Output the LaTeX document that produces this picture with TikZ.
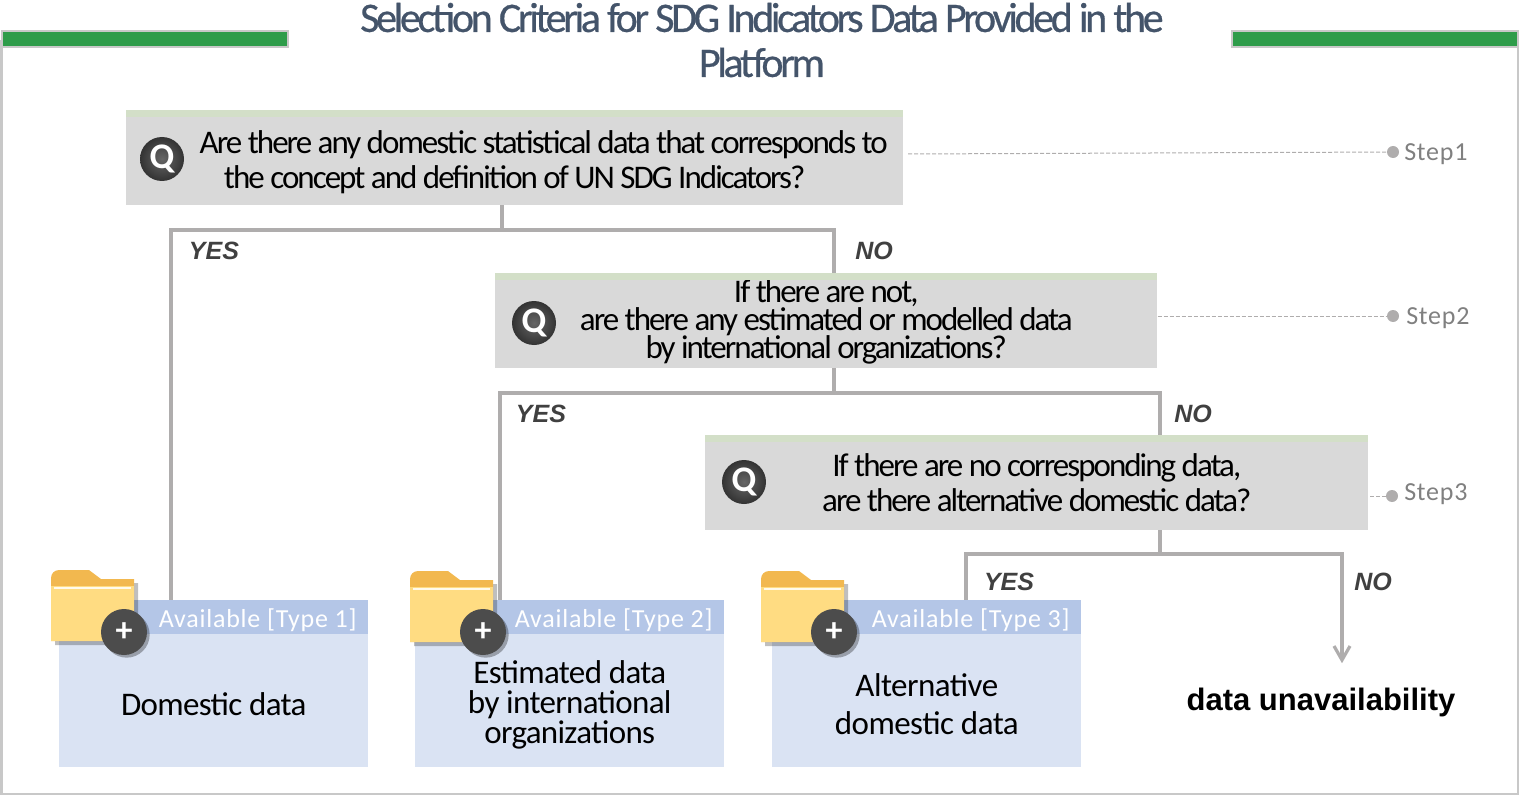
\documentclass[tikz,border=0pt]{standalone}
\usepackage{fontspec}
\setmainfont{Carlito}
\newfontfamily\arialf{Liberation Sans}
\usetikzlibrary{shadows,arrows.meta,calc}
\definecolor{framegray}{HTML}{C8C8C8}
\definecolor{linegray}{HTML}{AFADAD}
\definecolor{barG}{HTML}{2E9C4A}
\definecolor{qfill}{HTML}{D9D9D9}
\definecolor{qtop}{HTML}{D3DFC8}
\definecolor{hdr}{HTML}{B4C6E7}
\definecolor{body}{HTML}{DAE3F3}
\definecolor{titlec}{HTML}{44546A}
\definecolor{stepc}{HTML}{808080}
\definecolor{foldT}{HTML}{F2B84F}
\definecolor{foldB}{HTML}{FFDC82}
\newcommand\pxfont[2]{\fontsize{\dimexpr#1pt*3/4\relax}{\dimexpr#2pt*3/4\relax}\selectfont\lineskiplimit=-20pt\relax}
\newcommand\folderat[2]{%
 \begin{scope}[shift={(#1,#2)}]
  \fill[foldT,drop shadow={shadow xshift=3pt,shadow yshift=-3pt,opacity=.25,fill=black}] (0,8) to[out=90,in=180] (8,0) -- (38,0) -- (50,9) -- (83,9) -- (83,71) -- (0,71) -- cycle;
  \fill[foldB] (0,16) -- (83,16) -- (83,71) -- (0,71) -- cycle;
  \draw[white!85!foldB,line width=1.1pt] (3,18) -- (80,18);
 \end{scope}}
\newcommand\lift[1]{\rule{0pt}{#1}}
\tikzset{
 x=0.75pt,y=-0.75pt,
 qbox/.style={fill=qfill,inner sep=0pt,anchor=north west,align=center,font=\pxfont{33}{35}\addfontfeature{LetterSpace=-6}},
 qtopband/.style={fill=qtop,inner sep=0pt,anchor=north west,minimum height=5.25pt},
 conn/.style={draw=linegray,line width=2.4pt},
 hdrbox/.style={fill=hdr,inner sep=0pt,anchor=north west,minimum width=231.75pt,minimum height=25.5pt,text=white,font=\pxfont{26}{28}\addfontfeature{LetterSpace=3}},
 bodybox/.style={fill=body,inner sep=0pt,anchor=north west,minimum width=231.75pt,minimum height=99.75pt,align=center,font=\pxfont{33}{30}\addfontfeature{LetterSpace=-2}},
 qcirc/.style={circle,inner sep=0pt,minimum size=33pt,inner color=black!60,outer color=black!80,text=white,font=\pxfont{36}{36}\bfseries},
 pluscirc/.style={circle,inner sep=0pt,minimum size=34.5pt,fill=black!70,text=white,font=\pxfont{34}{34}\bfseries,drop shadow={shadow xshift=2pt,shadow yshift=-2pt,opacity=.3,fill=black}},
 yn/.style={inner sep=0pt,text=black!75,font=\arialf\pxfont{25}{25}\bfseries\itshape},
 stepdot/.style={circle,fill=linegray,inner sep=0pt,minimum size=9pt},
 steptxt/.style={inner sep=0pt,anchor=west,text=stepc,font=\pxfont{26}{26}\addfontfeature{LetterSpace=3}},
 stepline/.style={draw=linegray,line width=0.75pt,dash pattern=on 3pt off 1.5pt},
}
\begin{document}
\begin{tikzpicture}
\useasboundingbox (0,0) rectangle (1520,795);
% frame
\draw[framegray,line width=1.5pt] (1.5,40) -- (1.5,794) -- (1518,794) -- (1518,40);
\node[fill=barG,draw=framegray,line width=1.5pt,inner sep=0pt,anchor=north west,minimum width=214.5pt,minimum height=12pt] (barL) at (1,30) {};
\node[fill=barG,draw=framegray,line width=1.5pt,inner sep=0pt,anchor=north west,minimum width=214.5pt,minimum height=12pt] (barR) at (1231,30) {};
\node[inner sep=0pt,align=center,text=titlec,font=\pxfont{42}{45}\addfontfeature{LetterSpace=-8,FakeBold=0.6}] (title) at (762,40) {Selection Criteria for SDG Indicators Data Provided in the\\Platform};

% question boxes
\node[qbox,minimum width=582.75pt,minimum height=71.25pt] (q1) at (126,110) {\lift{24pt}\hspace*{43.5pt}Are there any domestic statistical data that corresponds to\\the concept and definition of UN SDG Indicators?};
\node[qtopband,minimum width=582.75pt] at (126,110) (q1t) {};
\node[qbox,minimum width=496.5pt,minimum height=71.25pt,font=\pxfont{33}{28}\addfontfeature{LetterSpace=-6}] (q2) at (495,273) {\lift{19pt}If there are not,\\are there any estimated or modelled data\\by international organizations?};
\node[qtopband,minimum width=496.5pt] at (495,273) (q2t) {};
\node[qbox,minimum width=497.25pt,minimum height=71.25pt] (q3) at (705,435) {If there are no corresponding data,\\are there alternative domestic data?};
\node[qtopband,minimum width=497.25pt] at (705,435) (q3t) {};
\node[qcirc] (c1) at (162,159) {Q};
\node[qcirc] (c2) at (534,323) {Q};
\node[qcirc] (c3) at (744,482) {Q};

% result boxes
\node[bodybox] (b1) at (59,634) {\lift{22pt}Domestic data};
\node[bodybox] (b2) at (415,634) {\lift{23pt}Estimated data\\by international\\organizations};
\node[bodybox,font=\pxfont{33}{38}\addfontfeature{LetterSpace=-1.6}] (b3) at (772,634) {\lift{22pt}Alternative\\domestic data};

% connectors
\coordinate (j1) at (502,230);
\coordinate (j1l) at (171,230);
\coordinate (j1r) at (834,230);
\coordinate (j2) at (834,393);
\coordinate (j2l) at (500,393);
\coordinate (j2r) at (1160,393);
\coordinate (j3) at (1160,554);
\coordinate (j3l) at (966,554);
\coordinate (j3r) at (1342,554);
\coordinate (h1top) at (171,600);
\coordinate (h2top) at (500,600);
\coordinate (h3top) at (966,600);
\coordinate (arrowend) at (1342,660);
\draw[conn] (502,205) -- (j1);
\draw[conn] (h1top) -- (j1l) -- (j1r) -- (834,273);
\draw[conn] (834,368) -- (j2);
\draw[conn] (h2top) -- (j2l) -- (j2r) -- (1160,435);
\draw[conn] (1160,530) -- (j3);
\draw[conn] (h3top) -- (j3l) -- (j3r) -- (arrowend);
\draw[conn] (1334,646) -- (arrowend) -- (1350,646);

\node[hdrbox] (h1) at (59,600) {\lift{18pt}\hspace*{66pt}Available [Type 1]};
\node[hdrbox] (h2) at (415,600) {\lift{18pt}\hspace*{66pt}Available [Type 2]};
\node[hdrbox] (h3) at (772,600) {\lift{18pt}\hspace*{66pt}Available [Type 3]};

\folderat{51}{570}
\folderat{410}{571}
\folderat{761}{571}
\node[pluscirc] (p1) at (124,632) {+};
\node[pluscirc] (p2) at (483,632) {+};
\node[pluscirc] (p3) at (834,632) {+};

% labels
\node[yn] (y1) at (214,251) {YES};
\node[yn] (n1) at (874,251) {NO};
\node[yn] (y2) at (541,414) {YES};
\node[yn] (n2) at (1193,414) {NO};
\node[yn] (y3) at (1009,582) {YES};
\node[yn] (n3) at (1373,582) {NO};
\node[inner sep=0pt,font=\arialf\pxfont{31}{31}\bfseries] (un) at (1321,702) {data unavailability};

% steps
\node[stepdot] (d1) at (1393,152) {};
\node[stepdot] (d2) at (1393,316) {};
\node[stepdot] (d3) at (1392,496) {};
\node[steptxt] (s1) at (1404,154) {Step1};
\node[steptxt] (s2) at (1406,318) {Step2};
\node[steptxt] (s3) at (1404,494) {Step3};
\draw[stepline] (908,154) -- (d1);
\draw[stepline] (q2.east |- d2) -- (d2);
\draw[stepline] (1370,496) -- (d3);
\end{tikzpicture}
\end{document}
